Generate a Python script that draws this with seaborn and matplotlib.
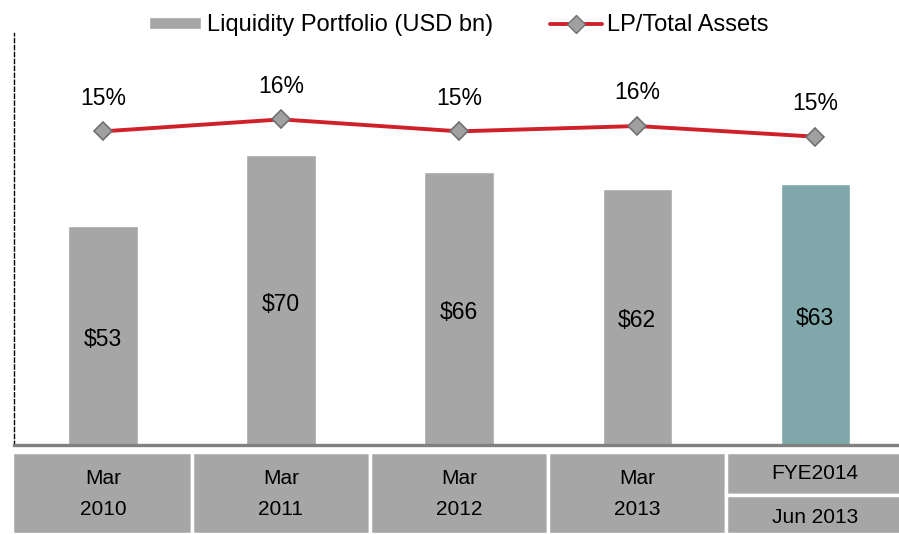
import numpy as np
import pandas as pd
import matplotlib
matplotlib.use("Agg")
import matplotlib.pyplot as plt
from matplotlib.patches import Rectangle
from matplotlib.lines import Line2D
import seaborn as sns

# data
periods = ["Mar\n2010", "Mar\n2011", "Mar\n2012", "Mar\n2013", "Jun 2013"]
liquidity = [53, 70, 66, 62, 63]
lp_ratio = [15.2, 16.1, 15.2, 15.6, 14.8]
bar_colors = ["#a6a6a6", "#a6a6a6", "#a6a6a6", "#a6a6a6", "#80a8aa"]

sns.set_style("white")
plt.rcParams["font.family"] = ["Liberation Sans", "DejaVu Sans"]
plt.rcParams["text.color"] = "black"

df = pd.DataFrame({"period": periods, "lp": liquidity, "ratio": lp_ratio})

W, H = 899, 534
fig = plt.figure(figsize=(W / 100, H / 100), dpi=100)
ax = fig.add_axes([14 / W, (H - 445) / H, 885 / W, 412 / H])

sns.barplot(data=df, x="period", y="lp", hue="period", palette=bar_colors,
            legend=False, width=0.39, saturation=1, ax=ax)
for c in ax.containers:
    ax.bar_label(c, labels=[f"${v:.0f}" for v in c.datavalues],
                 label_type="center", fontsize=16.5, color="black",
                 padding=-3)

ax.set_ylim(0, 99.6)
ax.set_xlim(-0.5, 4.47)
ax.set_xlabel("")
ax.set_ylabel("")
ax.set_xticks([])
ax.set_yticks([])
for s in ["top", "right"]:
    ax.spines[s].set_visible(False)
ax.spines["left"].set_linestyle((0, (3, 2)))
ax.spines["left"].set_color("black")
ax.spines["left"].set_linewidth(1)
ax.spines["bottom"].set_color("#808080")
ax.spines["bottom"].set_linewidth(2.4)

# LP / total assets line
ax2 = ax.twinx()
sns.pointplot(data=df, x="period", y="ratio", color="#d0202a", markers="D",
              linewidth=2.8, markersize=9.5, markerfacecolor="#a0a0a0",
              markeredgecolor="#707070", markeredgewidth=1.2, errorbar=None, ax=ax2)
for i, v in enumerate(lp_ratio):
    ax2.annotate(f"{round(v)}%", (i, v), xytext=(0, 24), textcoords="offset points",
                 ha="center", va="center", fontsize=16.5, color="black")
ax2.set_ylim(-8.4, 22.6)
ax2.set_xlim(-0.5, 4.47)
ax2.set_xlabel("")
ax2.set_ylabel("")
ax2.set_xticks([])
ax2.set_yticks([])
for s in ax2.spines.values():
    s.set_visible(False)

# category table below the chart
tab = fig.add_axes([12 / W, 0, 887 / W, (H - 452) / H])
tab.set_xlim(-0.51, 4.47)
tab.set_ylim(0, 1)
tab.axis("off")
edges = [-0.51, 0.5, 1.5, 2.5, 3.5, 4.49]
for i, p in enumerate(periods):
    x0, x1 = edges[i], edges[i + 1]
    if i < len(periods) - 1:
        tab.add_patch(Rectangle((x0, 0), x1 - x0, 1, facecolor="#a6a6a6",
                                edgecolor="white", linewidth=2.5))
        tab.text(i, 0.49, p, ha="center", va="center", fontsize=15,
                 linespacing=1.8, color="black")
    else:
        tab.add_patch(Rectangle((x0, 0.47), x1 - x0, 0.53, facecolor="#a6a6a6",
                                edgecolor="white", linewidth=2.5))
        tab.add_patch(Rectangle((x0, 0), x1 - x0, 0.47, facecolor="#a6a6a6",
                                edgecolor="white", linewidth=2.5))
        tab.text(i, 0.74, "FYE2014", ha="center", va="center", fontsize=15,
                 color="black")
        tab.text(i, 0.2, p, ha="center", va="center", fontsize=15, color="black")

handles = [
    Rectangle((0, 0), 1, 1, facecolor="#a6a6a6"),
    Line2D([], [], color="#d0202a", linewidth=2.8, marker="D", markersize=9.5,
           markerfacecolor="#a0a0a0", markeredgecolor="#707070"),
]
fig.legend(handles, ["Liquidity Portfolio (USD bn)", "LP/Total Assets"],
           loc="center", bbox_to_anchor=(459 / W, 1 - 25 / H), ncol=2,
           frameon=False, fontsize=17, handlelength=2.2, handleheight=0.4,
           handletextpad=0.25, columnspacing=2.4, borderpad=0)

fig.savefig("out.png", dpi=100)
